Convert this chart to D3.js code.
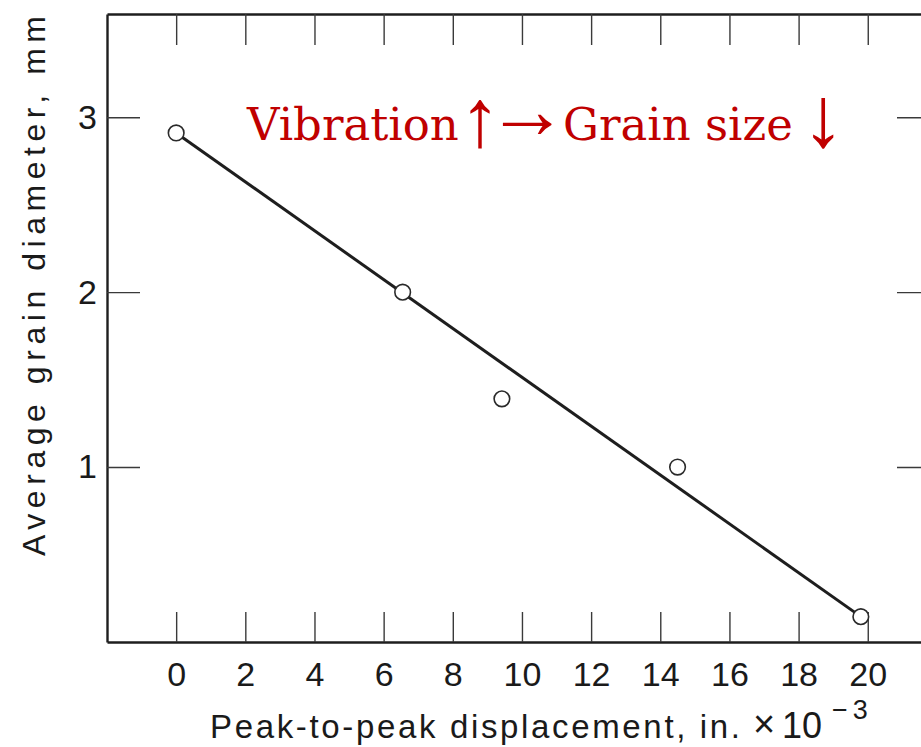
<!DOCTYPE html>
<html>
<head>
<meta charset="utf-8">
<script src="https://cdn.jsdelivr.net/npm/d3@7/dist/d3.min.js"></script>
<style>
  html, body { margin: 0; padding: 0; background: #fff; }
  svg { display: block; }
</style>
</head>
<body>
<svg id="chart" width="921" height="747"></svg>
<script>
// Measured grain size vs. vibration amplitude
const displacement = [0, 6.55, 9.42, 14.5, 19.8];      // in. × 10^-3
const grainDiameter = [2.91, 2.0, 1.39, 1.0, 0.145];   // mm

// Straight-line fit through the measurements
const fitX = [0, 19.8];
const fitY = [2.91, 0.145];

const xTicks = [0, 2, 4, 6, 8, 10, 12, 14, 16, 18, 20];
const yTicks = [1, 2, 3];

const svg = d3.select("#chart");
const ink = "#1e1e1e";
const tickInk = "#3a3a3a";
const numFont = "'Liberation Sans', Arial, sans-serif";

const x = d3.scaleLinear().domain([-2, 21.8]).range([107, 930]);
const y = d3.scaleLinear().domain([0, 3.59]).range([642, 14]);

function styleAxis(g, showLabels) {
  g.select(".domain").attr("stroke", ink).attr("stroke-width", 2.4);
  g.selectAll(".tick line").attr("stroke", tickInk).attr("stroke-width", 1.4);
  g.selectAll(".tick text")
    .attr("fill", "#1a1a1a")
    .style("font-family", numFont)
    .style("font-size", "34px");
  if (!showLabels) g.selectAll(".tick text").remove();
}

// bottom axis: ticks point inward, labels below
svg.append("g")
  .attr("transform", `translate(0,${y(0)})`)
  .call(d3.axisBottom(x).tickValues(xTicks).tickSizeInner(-30).tickSizeOuter(0)
        .tickPadding(20).tickFormat(d3.format("d")))
  .call(g => styleAxis(g, true));

// top frame with inward ticks
svg.append("g")
  .attr("transform", `translate(0,${y(3.59)})`)
  .call(d3.axisTop(x).tickValues(xTicks).tickSizeInner(-31).tickSizeOuter(0))
  .call(g => styleAxis(g, false));

// left axis
svg.append("g")
  .attr("transform", `translate(${x(-2)},0)`)
  .call(d3.axisLeft(y).tickValues(yTicks).tickSizeInner(-33).tickSizeOuter(0)
        .tickPadding(10).tickFormat(d3.format("d")))
  .call(g => styleAxis(g, true));

// right frame with inward ticks
svg.append("g")
  .attr("transform", `translate(${x(21.8)},0)`)
  .call(d3.axisRight(y).tickValues(yTicks).tickSizeInner(-33).tickSizeOuter(0))
  .call(g => styleAxis(g, false));

// fitted line
svg.append("path")
  .datum(fitX.map((v, i) => [v, fitY[i]]))
  .attr("d", d3.line().x(d => x(d[0])).y(d => y(d[1])))
  .attr("fill", "none")
  .attr("stroke", ink)
  .attr("stroke-width", 3);

// data points as open circles
svg.append("g")
  .selectAll("circle")
  .data(displacement.map((v, i) => [v, grainDiameter[i]]))
  .join("circle")
  .attr("cx", d => x(d[0]))
  .attr("cy", d => y(d[1]))
  .attr("r", 7.8)
  .attr("fill", "#fff")
  .attr("stroke", "#2a2a2a")
  .attr("stroke-width", 1.6);

// axis titles
svg.append("text")
  .attr("transform", "translate(45,286) rotate(-90)")
  .attr("text-anchor", "middle")
  .attr("fill", "#1a1a1a")
  .attr("textLength", 540)
  .attr("lengthAdjust", "spacing")
  .style("font-family", numFont)
  .style("font-size", "32px")
  .text("Average grain diameter, mm");

const xTitle = svg.append("text")
  .attr("fill", "#1a1a1a")
  .style("font-family", numFont);
xTitle.append("tspan")
  .attr("x", 210).attr("y", 738)
  .attr("textLength", 530)
  .attr("lengthAdjust", "spacing")
  .style("font-size", "33px")
  .text("Peak-to-peak displacement, in.");
xTitle.append("tspan")
  .attr("x", 753).attr("y", 737)
  .style("font-size", "38px")
  .text("×");
xTitle.append("tspan")
  .attr("x", 782).attr("y", 738)
  .style("font-size", "36px")
  .text("10");
xTitle.append("tspan")
  .attr("x", 832).attr("y", 719)
  .attr("letter-spacing", "5px")
  .style("font-size", "27px")
  .text("−3");

// annotation: words in DejaVu Serif, thin arrows in Liberation Serif
const arrowFont = "'Liberation Serif', 'Times New Roman', serif";
const note = svg.append("text")
  .attr("fill", "#c00000")
  .style("font-family", "'DejaVu Serif', serif")
  .style("font-size", "45px");
note.append("tspan").attr("x", 247).attr("y", 140).text("Vibration");
// "↑→" as one run, each glyph placed on its own centre
const pair = note.append("tspan")
  .style("font-family", arrowFont).style("font-size", "82px").text("↑→");
note.append("tspan").attr("x", 563).attr("y", 140).text("Grain size");
const downArrow = note.append("tspan").attr("y", 146)
  .style("font-family", arrowFont).style("font-size", "86px").text("↓");

const pn = pair.node();
const wUp = pn.getSubStringLength(0, 1);
const wRight = pn.getSubStringLength(1, 1);
pair.attr("x", `${480 - wUp / 2} ${527 - wRight / 2}`).attr("y", "146 138");
downArrow.attr("x", 823 - downArrow.node().getComputedTextLength() / 2);
</script>
</body>
</html>
